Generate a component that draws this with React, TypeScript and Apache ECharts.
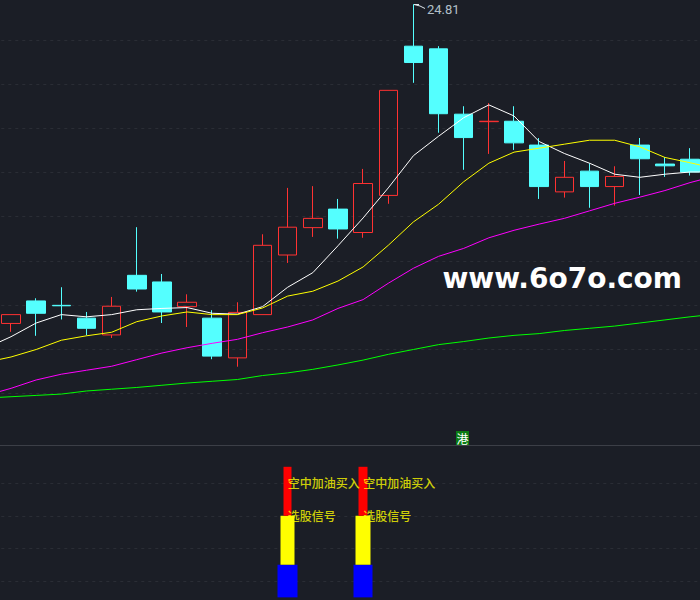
import React, { useEffect, useRef } from "react";
import * as echarts from "echarts";

// one hidden padding slot on each side, so that the moving averages run off the page edges
const categories = ["L","0","1","2","3","4","5","6","7","8","9","10","11","12","13","14","15","16","17","18","19","20","21","22","23","24","25","26","27","R"];

const opens  = [null,17.58,18.09,17.99,17.70,17.32,18.67,18.52,17.96,17.70,16.80,17.78,19.13,19.75,20.17,19.64,20.48,23.86,23.80,22.32,22.15,22.16,21.62,20.56,21.03,20.68,21.62,21.19,21.30,null];
const closes = [null,17.78,17.81,17.98,17.47,17.97,18.36,17.84,18.06,16.84,17.83,19.35,19.76,19.96,19.72,20.75,22.86,23.49,22.33,21.79,22.16,21.67,20.68,20.89,20.68,20.91,21.31,21.15,21.01,null];
const lows   = [null,17.39,17.30,17.67,17.31,17.25,18.30,17.59,17.50,16.77,16.60,17.78,18.95,19.54,19.50,19.52,20.29,23.03,21.90,21.06,21.42,21.51,20.40,20.43,20.20,20.25,20.49,20.90,20.93,null];
const highs  = [null,17.78,18.15,18.40,17.84,18.18,19.76,18.70,18.24,17.88,18.06,19.60,20.65,20.69,20.40,21.08,22.86,24.81,23.86,22.50,22.57,22.50,21.78,21.26,21.21,21.14,21.78,21.35,21.55,null];

const ma5  = [17.02,17.28,17.59,17.78,17.73,17.78,17.89,17.92,17.94,17.81,17.79,17.96,18.40,18.73,19.34,19.97,20.65,21.38,21.82,22.24,22.53,22.28,21.70,21.43,21.21,20.96,20.89,20.96,21.01,21.01];
const ma10 = [16.70,16.82,16.99,17.20,17.30,17.38,17.62,17.75,17.84,17.78,17.78,17.93,18.20,18.31,18.54,18.86,19.35,19.88,20.28,20.79,21.21,21.46,21.55,21.64,21.73,21.73,21.58,21.34,21.22,21.09];
const ma20 = [15.95,16.11,16.30,16.43,16.52,16.61,16.76,16.91,17.03,17.13,17.22,17.37,17.50,17.66,17.92,18.12,18.49,18.83,19.10,19.28,19.52,19.69,19.83,19.96,20.13,20.30,20.44,20.59,20.77,20.92];
const ma60 = [15.89,15.92,15.95,15.98,16.05,16.09,16.13,16.18,16.23,16.27,16.31,16.40,16.46,16.54,16.64,16.75,16.88,16.99,17.10,17.17,17.25,17.31,17.35,17.42,17.47,17.52,17.59,17.66,17.73,17.79];

const signalCategories = ["11", "14"];
const blueBar = [0.5, 1.5];
const yellowBar = [1.5, 3];
const redBar = [3, 4.5];
const signalTexts = ["空中加油买入", "选股信号"];
const signalLevels = [4, 3];

const peakCategory = "16";
const peakValue = 24.81;
const watermark = "www.6o7o.com";

const BG = "#1b1e26";
const GRID = "#2a2d35";
const RED = "#ff3232";
const CYAN = "#54ffff";
const CJK = '"Noto Sans CJK SC", sans-serif';

const lineSeries = (data: number[], color: string) => ({
  type: "line", data, xAxisIndex: 0, yAxisIndex: 0, showSymbol: false, smooth: false, z: 5, silent: true,
  lineStyle: { color, width: 1 }, itemStyle: { color },
});

const floatingBar = (range: number[], width: number, color: string) => ({
  type: "candlestick", xAxisIndex: 1, yAxisIndex: 1, barWidth: width, z: 3, silent: true,
  data: categories.map((c) =>
    signalCategories.includes(c) ? [range[0], range[1], range[0], range[1]] : ["-", "-", "-", "-"]
  ),
  itemStyle: { color, color0: color, borderColor: color, borderColor0: color, borderWidth: 0 },
});

const signalLabels = signalTexts.flatMap((text, i) =>
  signalCategories.map((c) => ({ value: [c, signalLevels[i]], text }))
);

export default function App() {
  const ref = useRef<HTMLDivElement>(null);
  useEffect(() => {
    document.body.style.margin = "0";
    document.body.style.background = BG;
    const chart = echarts.init(ref.current!, undefined, { renderer: "svg", width: 700, height: 600 });
    const xBase = { type: "category", data: categories, boundaryGap: true, axisTick: { show: false }, axisLabel: { show: false }, splitLine: { show: false } };
    chart.setOption({
      animation: false,
      backgroundColor: BG,
      grid: [
        { left: -26.7, width: 754.5, top: -4.15, height: 441.5, outerBoundsMode: "none" },
        { left: -26.7, width: 754.5, top: 466.8, height: 146.9, outerBoundsMode: "none" },
      ],
      xAxis: [
        { ...xBase, gridIndex: 0, position: "bottom", offset: 7.7, axisLine: { show: true, lineStyle: { color: "#3c3f47", width: 1 } } },
        { ...xBase, gridIndex: 1, axisLine: { show: false } },
      ],
      yAxis: [
        { type: "value", gridIndex: 0, min: 15, max: 25, interval: 1, axisLine: { show: false }, axisTick: { show: false }, axisLabel: { show: false },
          splitLine: { show: true, showMinLine: false, showMaxLine: false, lineStyle: { color: GRID, type: [3, 4], width: 1 } } },
        { type: "value", gridIndex: 1, min: 0, max: 4.5, interval: 1, axisLine: { show: false }, axisTick: { show: false }, axisLabel: { show: false },
          splitLine: { show: true, showMinLine: false, showMaxLine: false, lineStyle: { color: GRID, type: [3, 4], width: 1 } } },
      ],
      series: [
        {
          type: "candlestick", xAxisIndex: 0, yAxisIndex: 0, barWidth: 19, z: 3, silent: true,
          data: categories.map((_, i) => (opens[i] == null ? ["-", "-", "-", "-"] : [opens[i], closes[i], lows[i], highs[i]])),
          itemStyle: { color: "transparent", color0: CYAN, borderColor: RED, borderColor0: CYAN, borderColorDoji: RED, borderWidth: 1 },
        },
        lineSeries(ma5, "#ffffff"),
        lineSeries(ma10, "#ffff00"),
        lineSeries(ma20, "#ff00ff"),
        lineSeries(ma60, "#00ff00"),
        {
          type: "scatter", xAxisIndex: 0, yAxisIndex: 0, z: 6, silent: true, symbolSize: 1,
          itemStyle: { color: "transparent" },
          data: [[peakCategory, peakValue]],
          label: { show: true, position: "right", distance: 0, offset: [13, 5.5], formatter: "24.81", color: "#dce9f2", fontSize: 13, fontFamily: "Roboto, sans-serif" },
        },
        floatingBar(blueBar, 20, "#0000ff"),
        floatingBar(yellowBar, 15, "#ffff00"),
        floatingBar(redBar, 9, "#ff0000"),
        {
          type: "scatter", xAxisIndex: 1, yAxisIndex: 1, z: 6, silent: true, symbolSize: 1,
          itemStyle: { color: "transparent" },
          data: signalLabels,
          label: { show: true, position: "right", distance: 0, offset: [-0.5, -0.5], formatter: (p: any) => p.data.text, color: "#ffff00", fontSize: 12, fontWeight: 500, fontFamily: CJK },
        },
      ],
      graphic: [
        { type: "polyline", z: 20, silent: true, shape: { points: [[414, 4.5], [420, 6], [425, 8.5]] }, style: { stroke: "#dfe6ea", lineWidth: 1, fill: "none" } },
        { type: "polyline", z: 20, silent: true, shape: { points: [[414, 4.5], [419, 4.5]] }, style: { stroke: "#dfe6ea", lineWidth: 1, fill: "none" } },
        { type: "text", z: 20, silent: true, x: 442.5, y: 264.5, style: { text: watermark, fill: "#ffffff", fontSize: 28, fontWeight: "bold", fontFamily: '"DejaVu Sans", sans-serif' } },
        { type: "rect", z: 20, silent: true, shape: { x: 456, y: 431, width: 13, height: 14 }, style: { fill: "#0a7a12" } },
        { type: "text", z: 21, silent: true, x: 456.5, y: 432, style: { text: "港", fill: "#ffffff", fontSize: 12, fontFamily: CJK } },
      ],
    });
    return () => chart.dispose();
  }, []);
  return <div ref={ref} style={{ width: 700, height: 600, position: "fixed", left: 0, top: 0, overflow: "hidden", background: BG }} />;
}
